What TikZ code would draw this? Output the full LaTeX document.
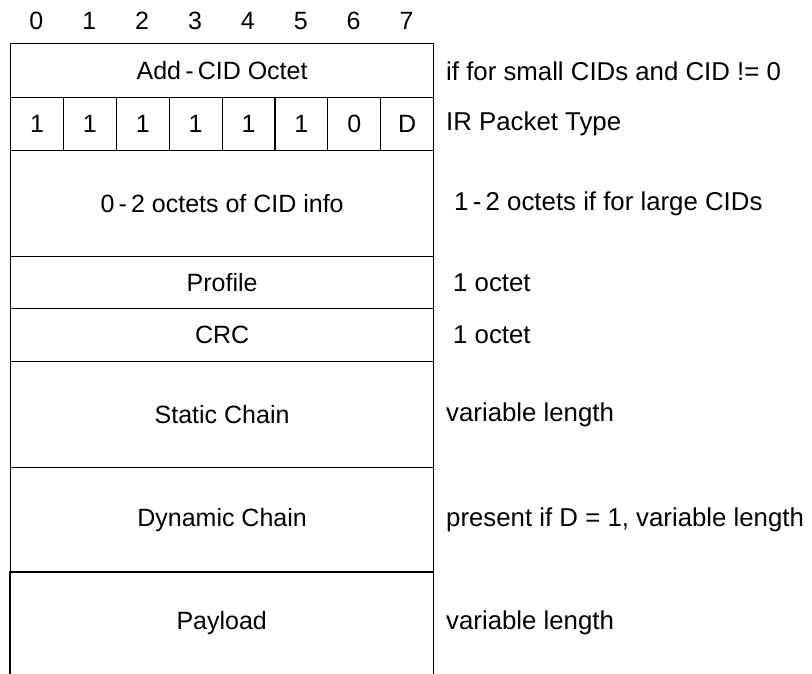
\documentclass[tikz,border=0pt]{standalone}
\usepackage{fontspec}
\setmainfont{Liberation Sans}
\begin{document}
\begin{tikzpicture}[x=1pt,y=-1pt,
  every node/.style={font=\fontsize{25}{30}\selectfont, inner sep=0pt},
  row/.style={draw, line width=1.2pt, rectangle, anchor=north west, minimum width=423pt},
  cell/.style={draw, line width=1.2pt, rectangle, anchor=north west, minimum width=52.875pt, minimum height=53pt},
  note/.style={anchor=west, font=\fontsize{25.8}{30}\selectfont},
  bitnum/.style={anchor=center}]
\useasboundingbox (0,0) rectangle (812,674);
% bit numbers
\foreach \i in {0,...,7} {
  \node[bitnum] (n\i) at ({10+52.875*(\i+0.5)},21) {\i};
}
% rows
\node[row, minimum height=54pt] (addcid) at (10,43) {Add\,-\,CID Octet};
\foreach \i/\t in {0/1,1/1,2/1,3/1,4/1,5/1,6/0,7/D} {
  \node[cell] (b\i) at ({10+52.875*\i},97) {\t};
}
\node[row, minimum height=106pt] (cidinfo) at (10,150) {0\,-\,2 octets of CID info};
\node[row, minimum height=52pt] (profile) at (10,256) {Profile};
\node[row, minimum height=53pt] (crc) at (10,308) {CRC};
\node[row, minimum height=106pt] (static) at (10,361) {Static Chain};
\node[row, minimum height=105pt] (dynamic) at (10,467) {Dynamic Chain};
\node[anchor=north west, minimum width=423pt, minimum height=102pt] (payload) at (10,572) {Payload};
\draw[line width=1.2pt] (payload.south west) -- (payload.north west) -- (payload.north east) -- (payload.south east);
% notes
\node[note] (t1) at (446,71) {if for small CIDs and CID != 0};
\node[note] (t2) at (446,124) {IR Packet Type};
\node[note] (t3) at (454,204) {1\,-\,2 octets if for large CIDs};
\node[note] (t4) at (453,283) {1 octet};
\node[note] (t5) at (453,335) {1 octet};
\node[note] (t6) at (446,415) {variable length};
\node[note] (t7) at (446,520) {present if D = 1, variable length};
\node[note] (t8) at (446,623) {variable length};
\end{tikzpicture}
\end{document}
